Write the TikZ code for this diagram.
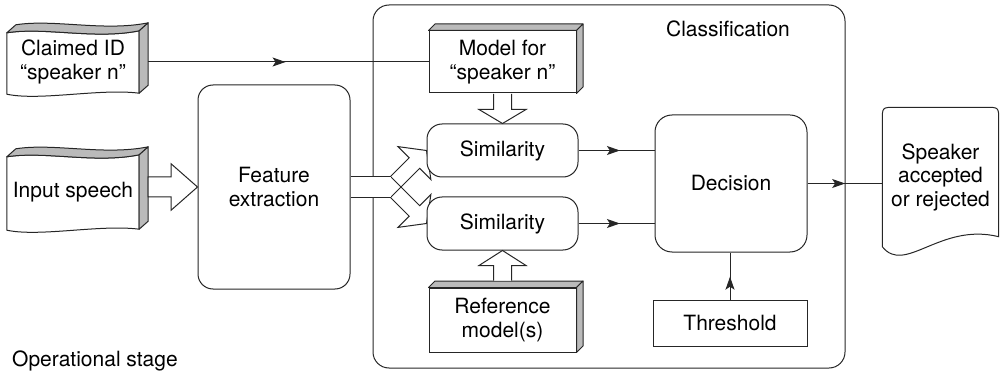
\documentclass[tikz,border=0pt]{standalone}
\usepackage{fontspec}
\setmainfont{TeX Gyre Heros}
\usetikzlibrary{calc,arrows.meta,decorations.markings,backgrounds}

\tikzset{
  ink/.style={draw=black!85, line width=1pt},
  rbox/.style={ink, fill=white, rounded corners=15pt, align=center, inner sep=0pt},
  pbox/.style={ink, fill=white, align=center, inner sep=0pt},
  txt/.style={align=center, inner sep=0pt},
  strip/.style={ink, fill=black!27, line join=round},
  hollow/.style={ink, fill=white, line join=miter},
  midarrow/.style={postaction={decorate, decoration={markings,
      mark=at position #1 with {\arrow{Stealth[length=13pt,width=9pt,inset=3pt]}}}}},
}

% wavy "document" box: front face, top band and right side
\newcommand\wavyshape[1]{%
  \draw[ink] ($(#1.north west)+(0,2)$) .. controls +(38,-6) and +(-44,9) .. (#1.north east)
     -- (#1.south east) .. controls +(-39,-5) and +(33,7) .. ($(#1.south west)+(0,1)$) -- cycle;
  \draw[strip] ($(#1.north west)+(0,2)$) .. controls +(38,-6) and +(-44,9) .. (#1.north east)
     -- ++(9,-8) .. controls +(-44,9) and +(38,-6) .. ($(#1.north west)+(9,-6)$) -- cycle;
  \draw[strip] (#1.north east) -- ++(9,-8) -- ($(#1.south east)+(9,-8)$) -- (#1.south east) -- cycle;
}

% slab box: shaded top and right faces
\newcommand\slabsides[1]{%
  \draw[strip] (#1.north west) -- ($(#1.north west)+(6.5,-6.5)$) -- ($(#1.north east)+(6.5,-6.5)$) -- (#1.north east) -- cycle;
  \draw[strip] (#1.north east) -- ($(#1.north east)+(6.5,-6.5)$) -- ($(#1.south east)+(6.5,-6.5)$) -- (#1.south east) -- cycle;
}

\begin{document}
\begin{tikzpicture}[x=1pt, y=-1pt, font=\fontsize{21}{23.5}\selectfont]
\useasboundingbox (0,0) rectangle (1001,374);

% classification frame
\node[ink, rounded corners=16pt, inner sep=0pt, minimum width=472pt, minimum height=363pt] (cls) at (609,186.5) {};
\node[txt] (clslabel) at (728,29) {Classification};

% inputs
\node[txt, minimum width=132pt, minimum height=62pt] (cid) at (73,62) {Claimed ID\\“speaker n”};
\wavyshape{cid}
\node[txt, minimum width=132pt, minimum height=74pt] (ins) at (73,192) {Input speech};
\wavyshape{ins}

% feature extraction
\node[rbox, minimum width=152pt, minimum height=204pt] (fe) at (274,187) {Feature\\extraction};

\draw[hollow] ($(ins.east |- fe.west)+(9,-10)$) -- ($(fe.west)+(-26.5,-10)$) -- ($(fe.west)+(-26.5,-23.3)$)
   -- (fe.west) -- ($(fe.west)+(-26.5,23.3)$) -- ($(fe.west)+(-26.5,10)$) -- ($(ins.east |- fe.west)+(9,10)$) -- cycle;

% models and similarity blocks
\node[pbox, minimum width=147pt, minimum height=62pt] (mdl) at (502.5,62) {Model for\\“speaker n”};
\slabsides{mdl}
\node[rbox, minimum width=151pt, minimum height=53pt] (sim1) at (502.5,150.5) {Similarity};
\node[rbox, minimum width=151pt, minimum height=53pt] (sim2) at (502.5,223.5) {Similarity};
\node[pbox, minimum width=147pt, minimum height=64pt] (ref) at (502.5,320) {Reference\\model(s)};
\slabsides{ref}

% forked feature stream
\coordinate (fork) at ($(fe.east)+(40,0)$);
\fill[white] ($(fe.east)+(0.5,-10.5)$) rectangle ($(fork)+(0,10.5)$);
\draw[ink] ($(fe.east)+(0,-10.5)$) -- ($(fork)+(0,-10.5)$);
\draw[ink] ($(fe.east)+(0,10.5)$) -- ($(fork)+(0,10.5)$);
\begin{scope}[on background layer]
  \draw[ink, line join=miter] ($(fork)+(0,-10.5)$) -- ($(fork)+(18.65,-29.15)$) -- ($(fork)+(7.4,-40.4)$)
     -- (sim1.west) -- ($(fork)+(40.4,-7.4)$) -- ($(fork)+(29.15,-18.65)$) -- ($(fork)+(0,10.5)$);
  \draw[ink, line join=miter] ($(fork)+(0,10.5)$) -- ($(fork)+(18.65,29.15)$) -- ($(fork)+(7.4,40.4)$)
     -- (sim2.west) -- ($(fork)+(40.4,7.4)$) -- ($(fork)+(29.15,18.65)$) -- ($(fork)+(0,-10.5)$);
\end{scope}

% model streams into the similarity blocks
\draw[hollow] ($(mdl.south)+(-9,0.5)$) -- ($(sim1.north)+(-9,-14)$) -- ($(sim1.north)+(-23.5,-14)$) -- (sim1.north)
   -- ($(sim1.north)+(23.5,-14)$) -- ($(sim1.north)+(9,-14)$) -- ($(mdl.south)+(9,0.5)$);
\draw[hollow] ($(ref.north)+(-9,-7)$) -- ($(sim2.south)+(-9,15)$) -- ($(sim2.south)+(-23.5,15)$) -- (sim2.south)
   -- ($(sim2.south)+(23.5,15)$) -- ($(sim2.south)+(9,15)$) -- ($(ref.north)+(9,-7)$);

% decision stage
\node[rbox, rounded corners=17pt, minimum width=152pt, minimum height=137pt] (dec) at (731,183.5) {Decision};
\node[pbox, minimum width=154pt, minimum height=46pt] (th) at (730,323) {Threshold};

% output document
\node[txt, minimum width=116pt, minimum height=139pt] (out) at (940.5,177) {Speaker\\accepted\\or rejected};
\draw[ink] (out.south west) -- ($(out.north west)+(0,13)$) .. controls (out.north west) .. ($(out.north west)+(13,0)$)
   -- ($(out.north east)+(-13,0)$) .. controls (out.north east) .. ($(out.north east)+(0,13)$)
   -- ($(out.south east)+(0,-10)$) .. controls +(-58.5,-14.5) and +(22.5,28.5) .. (out.south west) -- cycle;

% signal connectors
\draw[ink, midarrow=0.49] ($(cid.east)+(9,0)$) -- (mdl.west);
\draw[ink, midarrow=0.545] (sim1.east) -- (sim1.east -| dec.west);
\draw[ink, midarrow=0.545] (sim2.east) -- (sim2.east -| dec.west);
\draw[ink, midarrow=0.485] (th.north) -- (th.north |- dec.south);
\draw[ink, midarrow=0.503] (dec.east) -- (dec.east -| out.west);

\node[anchor=base west, inner sep=0pt] (stage) at (12,366) {Operational stage};
\end{tikzpicture}
\end{document}
